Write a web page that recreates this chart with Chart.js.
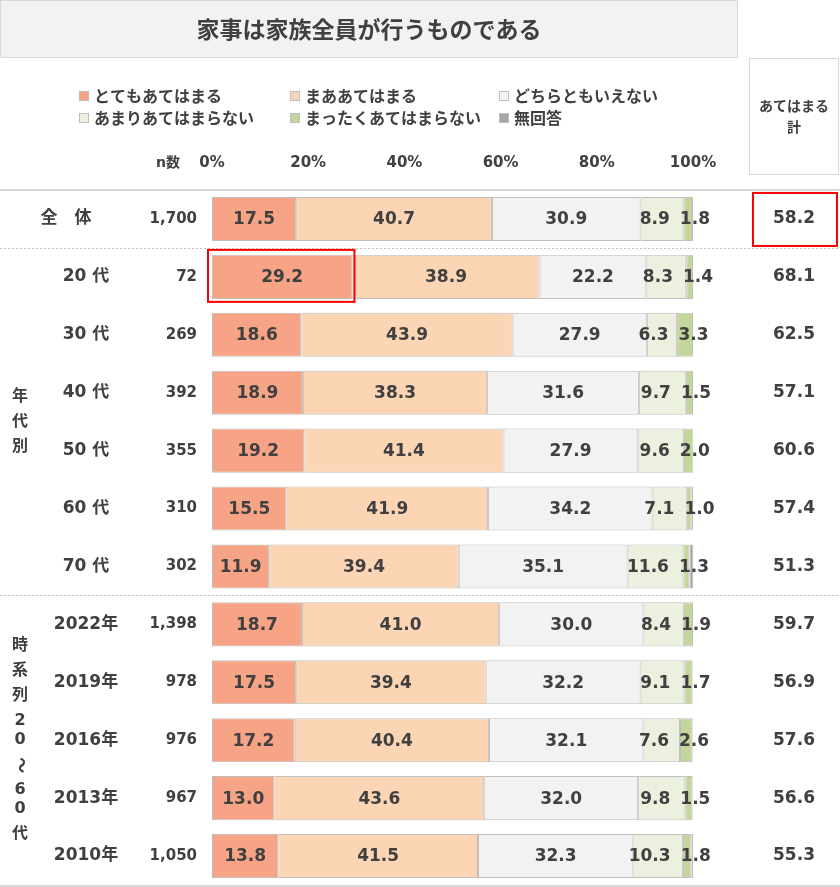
<!DOCTYPE html>
<html lang="ja">
<head>
<meta charset="utf-8">
<script src="https://cdn.jsdelivr.net/npm/chart.js@4.4.1/dist/chart.umd.min.js"></script>
<style>
html, body { margin: 0; padding: 0; background: #fff; }
#wrap { position: relative; width: 840px; height: 887px; }
</style>
</head>
<body>
<div id="wrap"><canvas id="grafica"></canvas></div>
<script>
// datos
const titulo = '家事は家族全員が行うものである';
const filas = ['全　体', '20 代', '30 代', '40 代', '50 代', '60 代', '70 代', '2022年', '2019年', '2016年', '2013年', '2010年'];
const nums = ['1,700', '72', '269', '392', '355', '310', '302', '1,398', '978', '976', '967', '1,050'];
const series = ['とてもあてはまる', 'まああてはまる', 'どちらともいえない', 'あまりあてはまらない', 'まったくあてはまらない', '無回答'];
const muy = [17.5, 29.2, 18.6, 18.9, 19.2, 15.5, 11.9, 18.7, 17.5, 17.2, 13.0, 13.8];
const algo = [40.7, 38.9, 43.9, 38.3, 41.4, 41.9, 39.4, 41.0, 39.4, 40.4, 43.6, 41.5];
const ninguno = [30.9, 22.2, 27.9, 31.6, 27.9, 34.2, 35.1, 30.0, 32.2, 32.1, 32.0, 32.3];
const poco = [8.9, 8.3, 6.3, 9.7, 9.6, 7.1, 11.6, 8.4, 9.1, 7.6, 9.8, 10.3];
const nada = [1.8, 1.4, 3.3, 1.5, 2.0, 1.0, 1.3, 1.9, 1.7, 2.6, 1.5, 1.8];
const sinResp = [0.2, 0, 0, 0, 0, 0.3, 0.7, 0, 0.1, 0.1, 0.1, 0.3];
const totales = ['58.2', '68.1', '62.5', '57.1', '60.6', '57.4', '51.3', '59.7', '56.9', '57.6', '56.6', '55.3'];
const ticksX = [0, 20, 40, 60, 80, 100];
const grupoTextos = ['年代別', '時系列20～60代'];
const grupoDesde = [1, 7];
const grupoHasta = [6, 11];

const colores = ['#F7A386', '#FCD5B5', '#F2F2F2', '#EBF1DE', '#C4D79B', '#A6A6A6'];
const TXT = '#404040';
const FNUM = '"DejaVu Sans", "Noto Sans CJK JP", sans-serif';
const FJP = '"Noto Sans CJK JP", sans-serif';

const valores = [muy, algo, ninguno, poco, nada, sinResp];

const dibujos = {
    id: 'dibujos',
    beforeDraw(chart) {
        const ctx = chart.ctx;
        const area = chart.chartArea;
        ctx.save();
        // caja del titulo
        ctx.fillStyle = '#F2F2F2';
        ctx.fillRect(0.5, 0.5, 737, 57);
        ctx.strokeStyle = '#D9D9D9';
        ctx.lineWidth = 1;
        ctx.strokeRect(0.5, 0.5, 737, 57);
        ctx.fillStyle = TXT;
        ctx.font = 'bold 23px ' + FJP;
        ctx.textAlign = 'center';
        ctx.textBaseline = 'middle';
        ctx.fillText(titulo, 369, 29);

        // caja あてはまる計
        ctx.strokeStyle = '#D9D9D9';
        ctx.strokeRect(749.5, 58.5, 89, 116);
        ctx.font = 'bold 14px ' + FJP;
        ctx.fillText('あてはまる', 794, 106);
        ctx.fillText('計', 794, 127);

        // leyenda
        const colX = [79, 290, 499];
        const rowY = [96, 118];
        ctx.font = 'bold 16px ' + FJP;
        ctx.textAlign = 'left';
        series.forEach((s, i) => {
            const x = colX[i % 3], y = rowY[Math.floor(i / 3)];
            ctx.fillStyle = colores[i];
            ctx.fillRect(x, y - 5, 10, 10);
            ctx.strokeStyle = '#BFBFBF';
            ctx.strokeRect(x + 0.5, y - 4.5, 9, 9);
            ctx.fillStyle = TXT;
            ctx.fillText(s, x + 15, y);
        });

        // ticks del eje x
        const xs = chart.scales.x;
        ctx.font = 'bold 15px ' + FNUM;
        ctx.textAlign = 'center';
        ticksX.forEach(t => ctx.fillText(t + '%', xs.getPixelForValue(t), 163));
        ctx.textAlign = 'right';
        ctx.font = 'bold 14px ' + FNUM;
        ctx.fillText('n数', 180, 163);

        // lineas
        ctx.strokeStyle = '#D9D9D9';
        ctx.lineWidth = 2;
        ctx.beginPath();
        ctx.moveTo(0, area.top); ctx.lineTo(840, area.top);
        ctx.moveTo(0, 886); ctx.lineTo(840, 886);
        ctx.stroke();
        const ys = chart.scales.y;
        ctx.strokeStyle = '#BFBFBF';
        ctx.lineWidth = 1;
        ctx.setLineDash([2, 2]);
        [0, 6].forEach(i => {
            const y = Math.round((ys.getPixelForValue(i) + ys.getPixelForValue(i + 1)) / 2) + 0.5;
            ctx.beginPath();
            ctx.moveTo(0, y); ctx.lineTo(840, y);
            ctx.stroke();
        });
        ctx.setLineDash([]);

        // etiquetas de filas
        ctx.fillStyle = TXT;
        filas.forEach((f, i) => {
            const y = ys.getPixelForValue(i);
            ctx.textAlign = 'center';
            ctx.font = 'bold 17px ' + FNUM;
            ctx.fillText(f, i === 0 ? 66 : 86, y);
            ctx.textAlign = 'right';
            ctx.font = 'bold 15px ' + FNUM;
            ctx.fillText(nums[i], 197, y);
            ctx.textAlign = 'center';
            ctx.font = 'bold 17px ' + FNUM;
            ctx.fillText(totales[i], 794, y);
        });

        // textos verticales de grupo
        ctx.font = 'bold 16px ' + FNUM;
        ctx.textAlign = 'center';
        grupoTextos.forEach((g, k) => {
            const chars = Array.from(g);
            const esDig = c => /[0-9]/.test(c);
            const pasos = [];
            let total = 0;
            for (let i = 1; i < chars.length; i++) {
                const p = (esDig(chars[i]) && esDig(chars[i - 1])) ? 19 : 25;
                pasos.push(p); total += p;
            }
            const centro = (ys.getPixelForValue(grupoDesde[k]) + ys.getPixelForValue(grupoHasta[k])) / 2;
            let y = centro - total / 2;
            chars.forEach((c, i) => {
                if (c === '～') {
                    ctx.save();
                    ctx.translate(20, y);
                    ctx.rotate(Math.PI / 2);
                    ctx.fillText(c, 0, 0);
                    ctx.restore();
                } else {
                    ctx.fillText(c, 20, y);
                }
                if (i < pasos.length) y += pasos[i];
            });
        });
        ctx.restore();
    },
    afterDatasetsDraw(chart) {
        const ctx = chart.ctx;
        ctx.save();
        ctx.font = 'bold 17px ' + FNUM;
        ctx.fillStyle = TXT;
        ctx.textAlign = 'center';
        ctx.textBaseline = 'middle';
        for (let j = 0; j < filas.length; j++) {
            const pos = [];
            for (let i = 0; i < 5; i++) {
                const el = chart.getDatasetMeta(i).data[j];
                pos.push((el.x + el.base) / 2);
            }
            // separar las dos etiquetas pequeñas si se pisan
            const w3 = ctx.measureText(poco[j].toFixed(1)).width;
            const w4 = ctx.measureText(nada[j].toFixed(1)).width;
            const falta = (w3 + w4) / 2 + 10 - (pos[4] - pos[3]);
            if (falta > 0) { pos[3] -= falta / 2; pos[4] += falta / 2; }
            const y = chart.getDatasetMeta(0).data[j].y;
            for (let i = 0; i < 5; i++) {
                ctx.fillText(valores[i][j].toFixed(1), pos[i], y + 1);
            }
        }
        // recuadros rojos
        const el = chart.getDatasetMeta(0).data[1];
        ctx.strokeStyle = '#FF0000';
        ctx.lineWidth = 2;
        ctx.strokeRect(el.base - 4, el.y - 27, el.x - el.base + 6, 52);
        const y0 = chart.getDatasetMeta(0).data[0].y;
        ctx.strokeRect(753, y0 - 26, 84, 53);
        ctx.restore();
    }
};

const ctx = document.getElementById('grafica').getContext('2d');
const myChart = new Chart(ctx, {
    type: 'bar',
    data: {
        labels: filas,
        datasets: series.map((s, i) => ({
            label: s,
            data: valores[i],
            backgroundColor: colores[i],
            borderColor: '#BFBFBF',
            borderWidth: 1,
            borderSkipped: false,
            barPercentage: 0.76,
            categoryPercentage: 1
        }))
    },
    options: {
        indexAxis: 'y',
        responsive: true,
        maintainAspectRatio: false,
        animation: false,
        layout: { padding: { left: 212, right: 147, top: 190, bottom: 2 } },
        scales: {
            x: { stacked: true, min: 0, max: 100, display: false },
            y: { stacked: true, display: false }
        },
        plugins: {
            legend: { display: false },
            tooltip: { enabled: false }
        }
    },
    plugins: [dibujos]
});
</script>
</body>
</html>
